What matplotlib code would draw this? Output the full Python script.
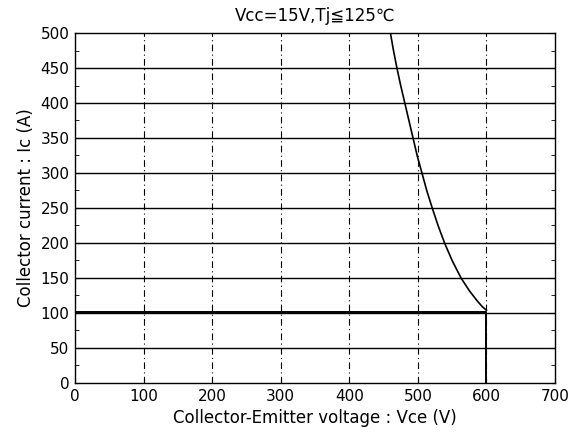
import matplotlib
matplotlib.use('Agg')
import matplotlib.pyplot as plt
import numpy as np

plt.rcParams['font.family'] = ['DejaVu Sans', 'Noto Sans CJK JP']

# RBSOA curve
vce_curve = [460, 464.5, 469.5, 475, 481, 487, 493, 499, 506, 513, 521, 529.5, 539, 550, 563, 575, 586, 594, 600]
ic_curve = [500, 475, 450, 425, 400, 375, 350, 325, 300, 275, 250, 225, 200, 175, 150, 132, 118, 109, 104]
vce_flat = [0, 600, 600]
ic_flat = [102, 102, 0]

xticks = [0, 100, 200, 300, 400, 500, 600, 700]
yticks = [0, 50, 100, 150, 200, 250, 300, 350, 400, 450, 500]

fig = plt.figure(figsize=(5.79, 4.36), dpi=100)
ax = fig.add_axes([0.1295, 0.1216, 0.829, 0.8027])

for y in yticks[1:-1]:
    ax.axhline(y, color='black', lw=1.0, zorder=1)
for x in xticks[1:-1]:
    ax.axvline(x, color='black', lw=0.8, ls='-.', dashes=(6, 3, 1, 3), zorder=1)

ax.plot(vce_curve, ic_curve, color='black', lw=1.2, zorder=3)
ax.plot(vce_flat, ic_flat, color='black', lw=1.4, zorder=3)

ax.set_xlim(0, 700)
ax.set_ylim(0, 500)
ax.set_xticks(xticks)
ax.set_yticks(yticks)
ax.set_yticks(np.arange(25, 500, 50), minor=True)
ax.tick_params(axis='both', which='both', direction='in', labelsize=11, right=True)
ax.tick_params(axis='both', which='major', length=3, pad=4)
ax.tick_params(axis='both', which='minor', length=3)
for s in ax.spines.values():
    s.set_linewidth(1.0)

ax.set_xlabel('Collector-Emitter voltage : Vce (V)', fontsize=12)
ax.set_ylabel('Collector current : Ic (A)', fontsize=12)
ax.set_title('Vcc=15V,Tj≦125℃', fontsize=12, pad=9)

fig.savefig('out.png', dpi=100)
